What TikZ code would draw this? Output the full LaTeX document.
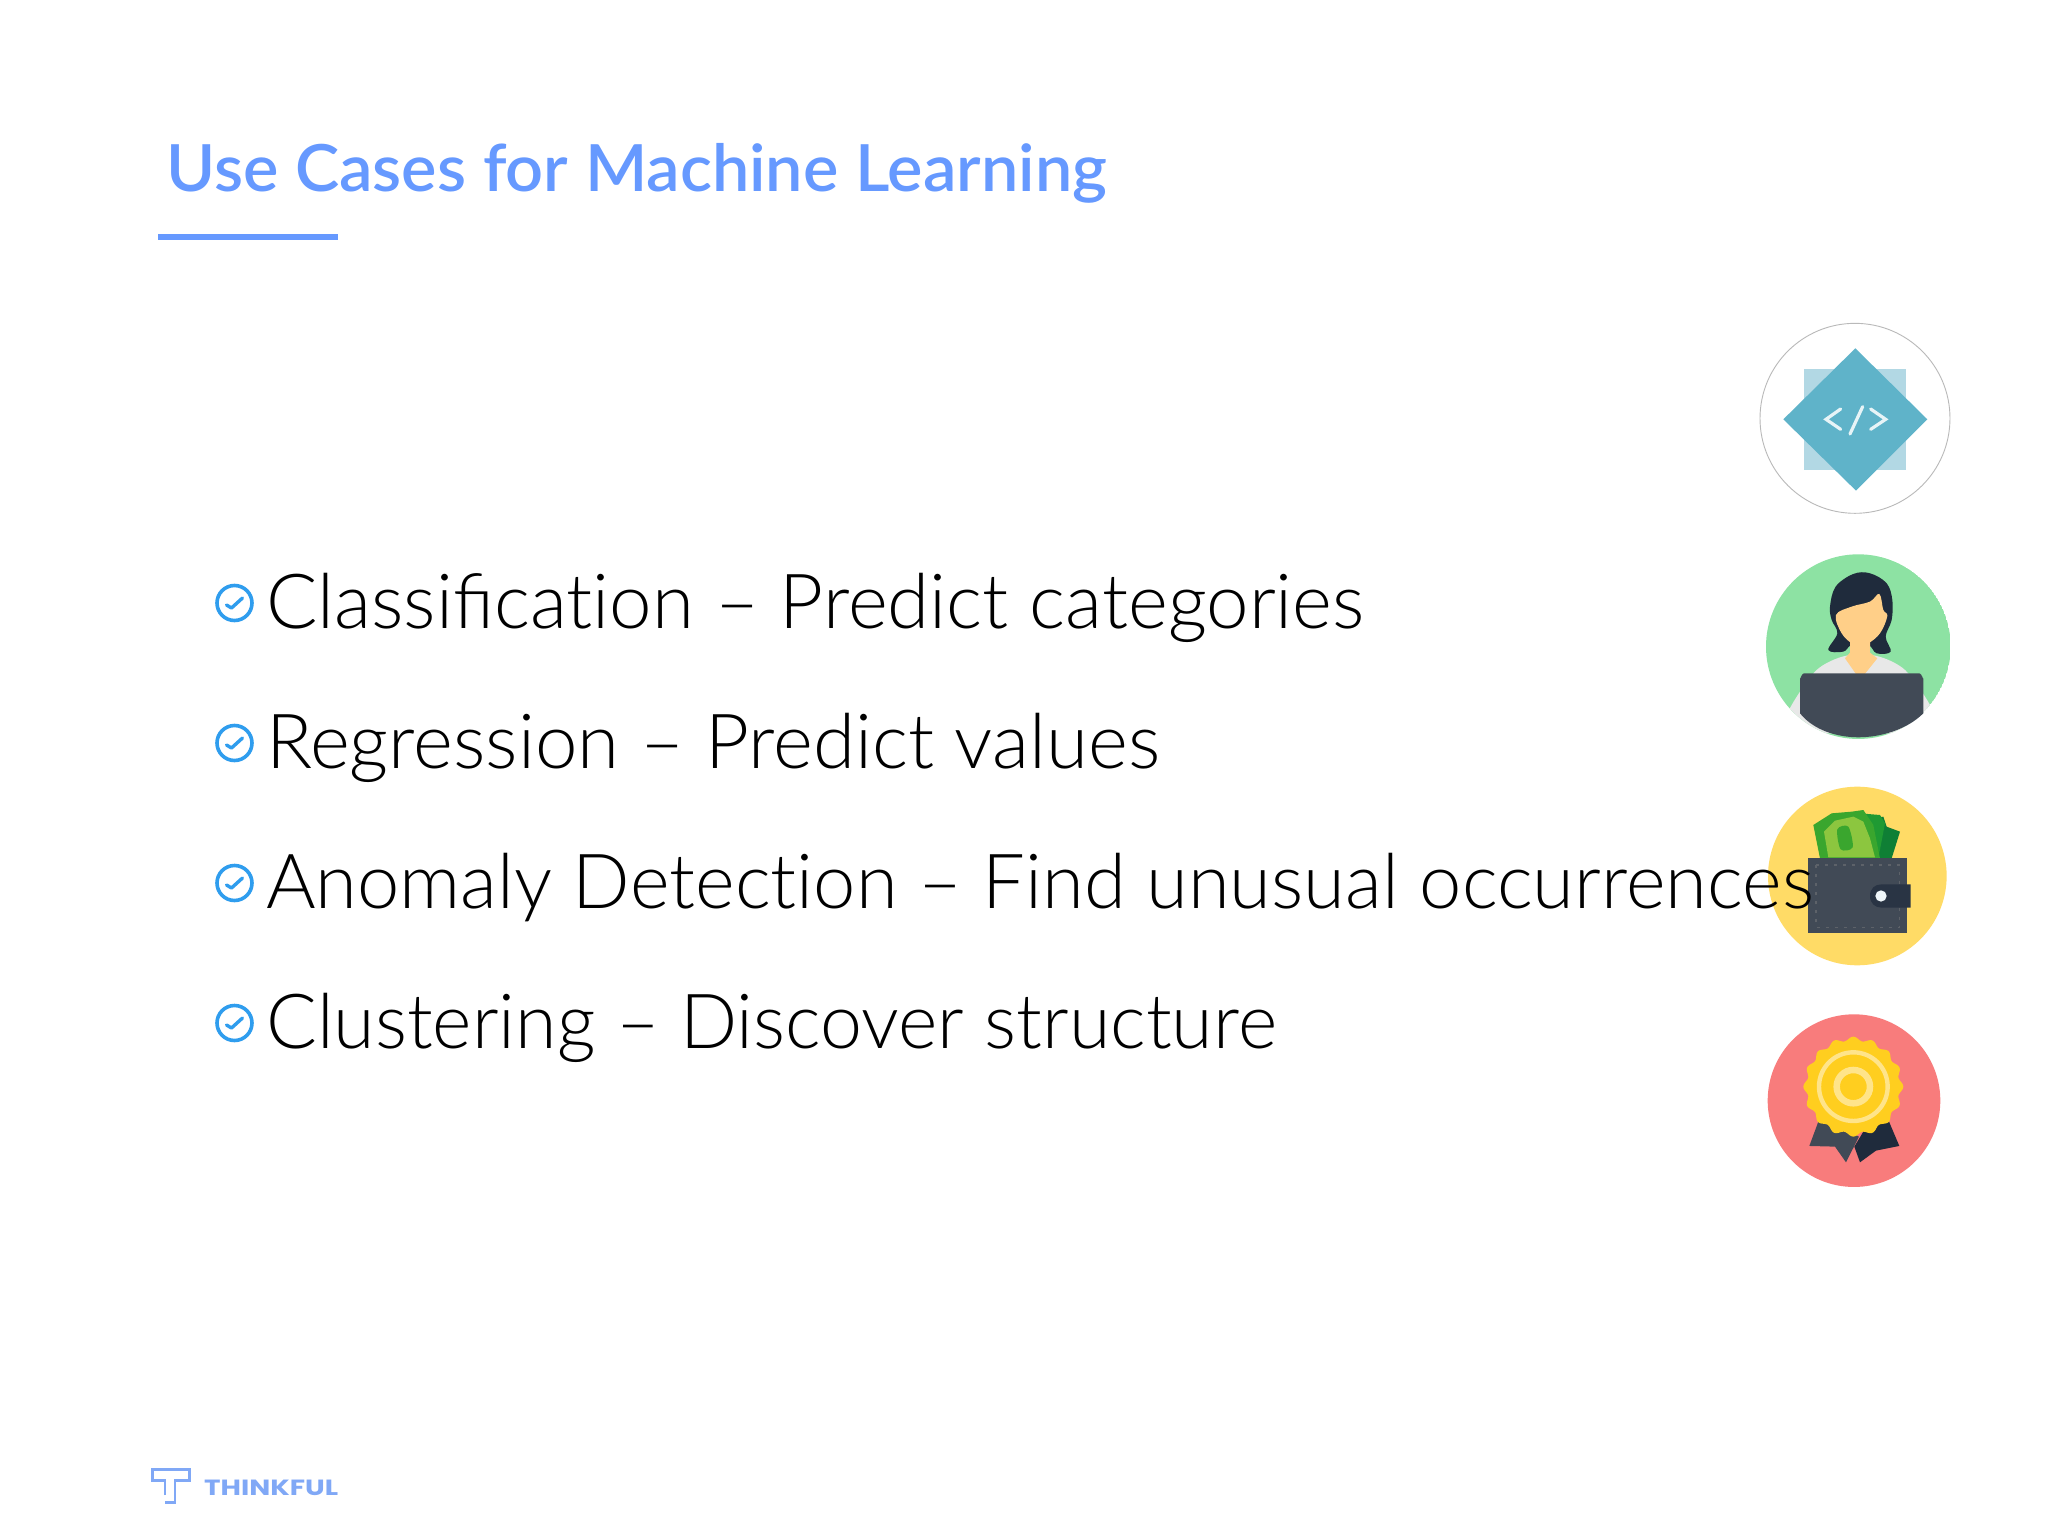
\documentclass[tikz,border=0pt]{standalone}
\usepackage{fontspec}
\setmainfont{Lato}
\newfontfamily\titlefont{Lato Semibold}[FakeStretch=1.025]
\newfontfamily\bodyfont{Lato Light}
\newfontfamily\logofont{Poppins}[UprightFont=* Bold,FakeStretch=1.27]
\definecolor{titleblue}{HTML}{6699FF}
\definecolor{checkblue}{HTML}{2F9DEE}
\definecolor{teal1}{HTML}{5FB3C9}
\definecolor{teal2}{HTML}{B2D8E4}
\definecolor{mint}{HTML}{8DE2A3}
\definecolor{hair}{HTML}{1F2B3C}
\definecolor{skin}{HTML}{FFCF88}
\definecolor{slate}{HTML}{414A56}
\definecolor{sun}{HTML}{FFDB66}
\definecolor{coral}{HTML}{F87C7C}
\definecolor{gold}{HTML}{FFCE1F}
\definecolor{palegold}{HTML}{FFE48A}
\definecolor{logoblue}{HTML}{80A8F6}
\definecolor{billdark}{HTML}{0F7F35}
\definecolor{billmid}{HTML}{1F9A33}
\definecolor{billedge}{HTML}{3AA62E}
\definecolor{billlight}{HTML}{8CC63F}
\tikzset{
  bodytext/.style={anchor=base west,inner sep=0pt,font=\bodyfont\fontsize{76}{90}\selectfont,text=black},
  bulletmark/.style={circle,draw=checkblue,line width=3.6pt,minimum size=35pt,inner sep=0pt,fill=white},
  checkline/.style={draw=checkblue,line width=3.4pt,line cap=round,line join=round},
  zoomA/.style={shift={(1720,300)},x=0.3333pt,y=-0.3333pt},
  zoomB/.style={shift={(1720,770)},x=0.3333pt,y=-0.3333pt},
  zoomC/.style={shift={(130,1440)},x=0.3333pt,y=-0.3333pt},
}
\begin{document}
\begin{tikzpicture}[x=1pt,y=-1pt]
\useasboundingbox (0,0) rectangle (2048,1536);
\fill[white] (0,0) rectangle (2048,1536);

% icon 1
\begin{scope}[zoomA]
\draw[gray!55,line width=0.9pt,fill=white] (405,355) circle[radius=285];
\fill[teal2] (253,207) rectangle (557,510);
\fill[teal1] (406,145) -- (622,358) -- (408,572) -- (190,358) -- cycle;
\draw[white!85!teal1,line width=3.2pt,line cap=round,line join=miter]
  (362,327) -- (318,358) -- (362,388) (452,327) -- (497,358) -- (452,388) (428,320) -- (390,402);
\end{scope}

% icon 2
\begin{scope}[zoomA]
\begin{scope}
\clip (415,1040) circle[radius=277];
\fill[mint] (415,1040) circle[radius=277];
\fill[gray!18] plot[smooth] coordinates {(180,1300) (215,1215) (290,1110) (375,1068) (470,1068) (555,1110) (630,1215) (660,1300)} -- cycle;
\end{scope}
\fill[hair] plot[smooth cycle,tension=0.6] coordinates {(330,920) (347,860) (400,822) (450,820) (500,850) (517,900) (515,960) (497,1010) (512,1055) (470,1060) (445,1035) (395,1035) (370,1055) (325,1050) (352,1000) (335,960)};
\fill[skin] (390,1015) -- (450,1015) -- (450,1058) -- (472,1075) -- (432,1125) -- (410,1125) -- (375,1075) -- (390,1058) -- cycle;
\fill[skin] plot[smooth cycle,tension=0.6] coordinates {(348,945) (395,920) (450,905) (478,882) (490,930) (502,948) (480,1000) (440,1032) (400,1032) (365,1000)};
\fill[slate] (240,1135) to[out=-90,in=180] (252,1120) -- (598,1120) to[out=0,in=-90] (610,1135) -- (610,1240) .. controls (560,1290) and (480,1312) .. (415,1312) .. controls (350,1312) and (280,1290) .. (240,1240) -- cycle;
\end{scope}

% icon 3
\begin{scope}[zoomB]
\fill[sun] (412,318) circle[radius=268];
\fill[billdark] (430,150) -- (490,140) -- (500,170) -- (540,185) -- (515,265) -- (440,265) -- cycle;
\fill[billmid] (420,130) -- (480,135) -- (495,160) -- (475,265) -- (440,265) -- cycle;
\fill[billedge] (280,165) -- (335,130) -- (395,125) -- (430,120) -- (460,165) -- (480,265) -- (300,265) -- cycle;
\fill[billlight] (312,185) -- (345,152) -- (400,140) -- (430,155) -- (450,205) -- (465,262) -- (325,262) -- cycle;
\fill[billedge] plot[smooth cycle,tension=0.5] coordinates {(352,178) (385,170) (398,232) (362,238)};
\fill[slate] (265,265) rectangle (560,490);
\draw[gray!45!slate,line width=1.2pt,dash pattern=on 3pt off 6pt] (288,285) -- (538,285) -- (538,472) -- (288,472) -- cycle;
\fill[hair!70!slate] (450,378) .. controls (450,355) and (465,343) .. (485,343) -- (572,343) -- (572,413) -- (485,413) .. controls (465,413) and (450,400) .. (450,378) -- cycle;
\fill[white!80!teal2] (483,378) circle[radius=17];
\end{scope}

% icon 4
\begin{scope}[zoomB]
\fill[coral] (402,992) circle[radius=259];
\fill[slate] (295,1055) -- (268,1128) -- (345,1130) -- (378,1177) -- (417,1100) -- (350,1070) -- cycle;
\fill[hair] (505,1050) -- (538,1128) -- (468,1142) -- (420,1177) -- (403,1130) -- (430,1085) -- cycle;
\fill[gold] plot[domain=0:360,samples=181,smooth] ({400+(144+6*cos(16*\x))*cos(\x)},{950+(144+6*cos(16*\x))*sin(\x)}) -- cycle;
\draw[palegold,line width=4.4pt] (400,950) circle[radius=103];
\draw[palegold,line width=6.5pt] (400,950) circle[radius=50];
\end{scope}

% title
\node[anchor=base west,inner sep=0pt,text=titleblue,font=\titlefont\fontsize{65}{76}\selectfont] (title) at (166,191) {Use Cases for Machine Learning};
\fill[titleblue] (158,234) rectangle (338,240);

% bullets
\foreach \nm/\yy/\xs/\txt in {a/628/1.003/{Classificat\kern0pt ion – Predict categories},
                          b/768/1.003/{Regression – Predict values},
                          c/908/0.998/{Anomaly Detect\kern0pt ion – Find unusual occurrences},
                          d/1048/0.991/{Clustering – Discover structure}}{
  \node[bodytext,xscale=\xs] (line\nm) at (266,\yy) {\txt};
  \node[bulletmark] (mark\nm) at (234.5,\yy-25) {};
  \draw[checkline] ([shift={(-8,2)}]mark\nm.center) -- ([shift={(-3,5)}]mark\nm.center) -- ([shift={(8,-5)}]mark\nm.center);
}

% logo
\begin{scope}[zoomC]
\draw[logoblue,line width=2.6pt,line join=miter] (105,165) -- (105,122) -- (68,122) -- (68,88) -- (178,88) -- (178,122) -- (135,122) -- (135,188) -- (105,188);
\end{scope}
\node[anchor=base west,inner sep=0pt,text=logoblue,font=\logofont\fontsize{22}{24}\selectfont] (logotext) at (204,1495) {THINKFUL};
\end{tikzpicture}
\end{document}
